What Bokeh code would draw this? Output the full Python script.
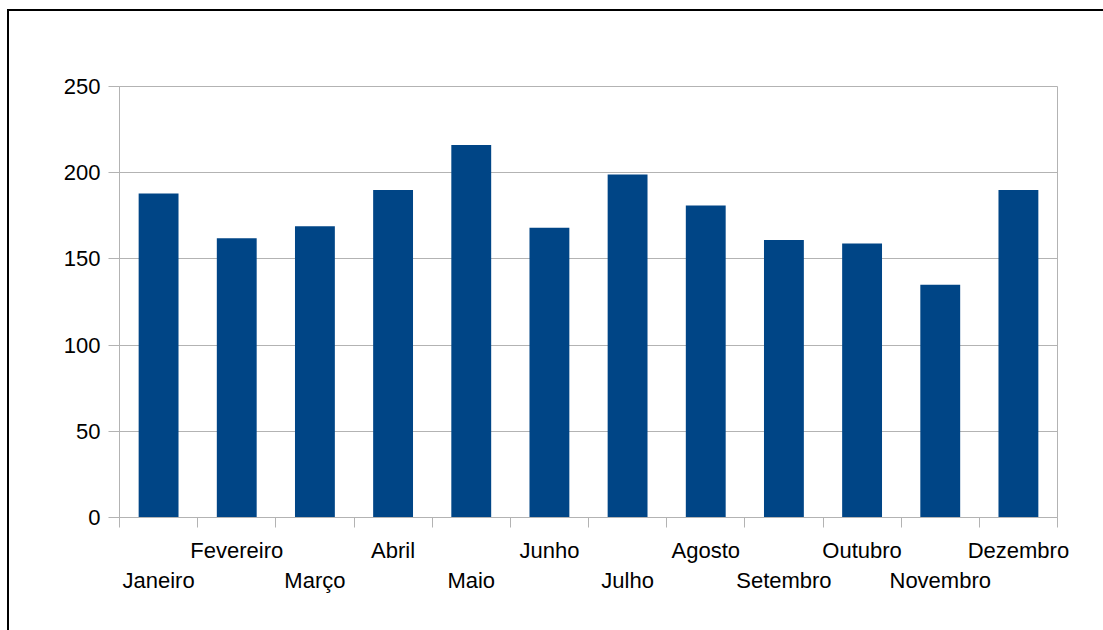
from bokeh.plotting import figure
from bokeh.models import FixedTicker, LinearAxis, Range1d
from bokeh.embed import file_html
from bokeh.resources import INLINE

months = ["Janeiro", "Fevereiro", "Março", "Abril", "Maio", "Junho",
          "Julho", "Agosto", "Setembro", "Outubro", "Novembro", "Dezembro"]
values = [188, 162, 169, 190, 216, 168, 199, 181, 161, 159, 135, 190]
y_ticks = [0, 50, 100, 150, 200, 250]

BAR = "#004586"
GRAY = "#b3b3b3"
FONT = "Liberation Sans"
FS = "22px"

n = len(months)
centers = [i + 0.5 for i in range(n)]
bounds = list(range(n + 1))

p = figure(frame_width=938, frame_height=431,
           x_range=Range1d(0, n), y_range=Range1d(y_ticks[0], y_ticks[-1]),
           output_backend="svg", toolbar_location=None, x_axis_location=None,
           min_border_left=110, min_border_right=46, min_border_top=75,
           min_border_bottom=113)
p.margin = (9, 0, 0, 7)
p.styles = {"border-left": "2px solid black", "border-top": "2px solid black"}
p.outline_line_color = GRAY
p.background_fill_color = "white"
p.border_fill_color = "white"

p.vbar(x=centers, top=values, width=0.51, bottom=0, fill_color=BAR, line_color=None)

p.xgrid.visible = False
p.ygrid.grid_line_color = GRAY
p.ygrid.ticker = FixedTicker(ticks=y_ticks)

ya = p.yaxis[0]
ya.ticker = FixedTicker(ticks=y_ticks)
ya.major_tick_out = 11
ya.major_tick_in = 0
ya.minor_tick_out = 0
ya.minor_tick_in = 0
ya.axis_line_color = GRAY
ya.major_tick_line_color = GRAY
ya.major_label_text_font = FONT
ya.major_label_text_font_size = FS
ya.major_label_text_color = "black"
ya.major_label_standoff = 8

top_idx = list(range(1, n, 2))
bot_idx = list(range(0, n, 2))

ax1 = LinearAxis(ticker=FixedTicker(ticks=[centers[i] for i in top_idx], minor_ticks=bounds),
                 major_label_overrides={centers[i]: months[i] for i in top_idx},
                 major_tick_out=0, major_tick_in=0, minor_tick_out=10, minor_tick_in=0,
                 axis_line_color=GRAY, minor_tick_line_color=GRAY, major_tick_line_color=None,
                 major_label_text_font=FONT, major_label_text_font_size=FS,
                 major_label_text_color="black", major_label_standoff=10)
ax2 = LinearAxis(ticker=FixedTicker(ticks=[centers[i] for i in bot_idx]),
                 major_label_overrides={centers[i]: months[i] for i in bot_idx},
                 major_tick_out=0, major_tick_in=0, minor_tick_out=0, minor_tick_in=0,
                 axis_line_color=None, minor_tick_line_color=None, major_tick_line_color=None,
                 major_label_text_font=FONT, major_label_text_font_size=FS,
                 major_label_text_color="black", major_label_standoff=2)
p.add_layout(ax1, "below")
p.add_layout(ax2, "below")

open("out.html", "w").write(file_html(p, INLINE))
